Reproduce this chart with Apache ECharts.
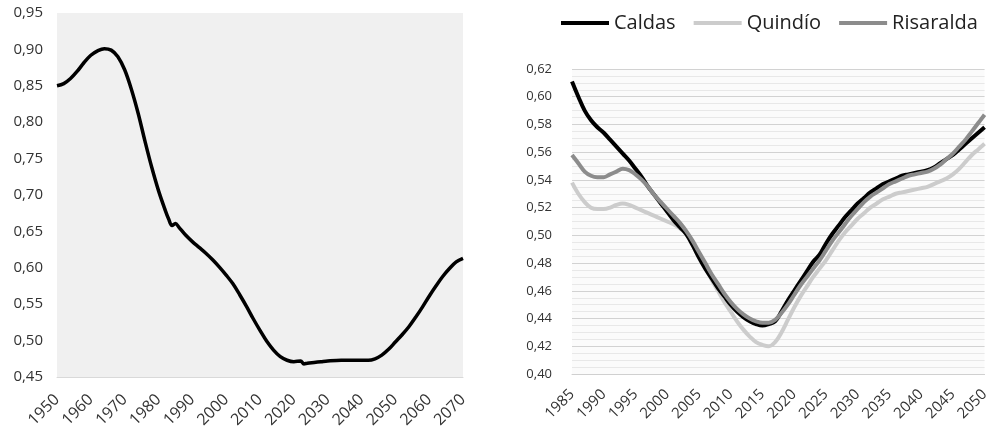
<!DOCTYPE html>
<html>
<head>
<meta charset="utf-8">
<script src="https://cdn.jsdelivr.net/npm/echarts@6/dist/echarts.min.js"></script>
<style>
  html, body { margin: 0; padding: 0; background: #ffffff; }
  #chart { width: 992px; height: 437px; }
</style>
</head>
<body>
<div id="chart"></div>
<script>
// Left panel: national ratio 1950-2070
const yearsNational = [1950, 1952, 1954, 1956, 1958, 1960, 1962, 1964, 1966, 1968, 1970, 1972, 1974, 1976, 1978, 1980, 1982, 1983, 1984, 1985, 1986, 1988, 1990, 1992, 1994, 1996, 1998, 2000, 2002, 2004, 2006, 2008, 2010, 2012, 2014, 2016, 2018, 2020, 2022, 2023, 2024, 2026, 2028, 2030, 2034, 2038, 2042, 2044, 2046, 2048, 2050, 2052, 2054, 2056, 2058, 2060, 2062, 2064, 2066, 2068, 2070];
const valuesNational = [0.850, 0.853, 0.860, 0.870, 0.882, 0.892, 0.898, 0.901, 0.899, 0.890, 0.872, 0.845, 0.812, 0.774, 0.738, 0.706, 0.679, 0.667, 0.658, 0.661, 0.656, 0.645, 0.636, 0.628, 0.620, 0.611, 0.601, 0.590, 0.578, 0.563, 0.547, 0.530, 0.514, 0.499, 0.487, 0.478, 0.473, 0.471, 0.472, 0.468, 0.469, 0.470, 0.471, 0.472, 0.473, 0.473, 0.473, 0.475, 0.480, 0.488, 0.498, 0.508, 0.519, 0.532, 0.546, 0.561, 0.575, 0.588, 0.599, 0.608, 0.613];

// Right panel: departments 1985-2050
const yearsDept = [];
for (let y = 1985; y <= 2050; y++) yearsDept.push(y);
const caldas = [0.611, 0.600, 0.590, 0.583, 0.578, 0.574, 0.569, 0.564, 0.559, 0.554, 0.548, 0.542, 0.535, 0.529, 0.523, 0.517, 0.511, 0.506, 0.501, 0.493, 0.484, 0.476, 0.469, 0.462, 0.456, 0.450, 0.445, 0.441, 0.438, 0.436, 0.435, 0.436, 0.438, 0.445, 0.453, 0.460, 0.467, 0.474, 0.481, 0.486, 0.494, 0.501, 0.507, 0.513, 0.518, 0.523, 0.527, 0.531, 0.534, 0.537, 0.539, 0.541, 0.543, 0.544, 0.545, 0.546, 0.547, 0.549, 0.552, 0.555, 0.558, 0.562, 0.566, 0.570, 0.574, 0.578];
const quindio = [0.538, 0.530, 0.524, 0.520, 0.519, 0.519, 0.520, 0.522, 0.523, 0.522, 0.520, 0.518, 0.516, 0.514, 0.512, 0.510, 0.508, 0.505, 0.501, 0.494, 0.486, 0.477, 0.468, 0.460, 0.452, 0.445, 0.438, 0.432, 0.427, 0.423, 0.421, 0.420, 0.423, 0.430, 0.439, 0.448, 0.456, 0.463, 0.470, 0.476, 0.482, 0.489, 0.496, 0.502, 0.507, 0.512, 0.516, 0.520, 0.523, 0.526, 0.528, 0.530, 0.531, 0.532, 0.533, 0.534, 0.535, 0.537, 0.539, 0.541, 0.544, 0.548, 0.553, 0.558, 0.562, 0.566];
const risaralda = [0.558, 0.552, 0.546, 0.543, 0.542, 0.542, 0.544, 0.546, 0.548, 0.547, 0.544, 0.540, 0.535, 0.529, 0.524, 0.519, 0.514, 0.509, 0.503, 0.496, 0.488, 0.480, 0.472, 0.465, 0.458, 0.452, 0.447, 0.443, 0.440, 0.438, 0.437, 0.437, 0.439, 0.444, 0.450, 0.457, 0.464, 0.470, 0.476, 0.482, 0.489, 0.496, 0.502, 0.508, 0.514, 0.519, 0.524, 0.528, 0.531, 0.534, 0.537, 0.539, 0.541, 0.543, 0.544, 0.545, 0.546, 0.548, 0.551, 0.555, 0.559, 0.564, 0.569, 0.575, 0.581, 0.587];

const seriesNames = ['Caldas', 'Quindío', 'Risaralda'];
const seriesColors = ['#000000', '#cccccc', '#8c8c8c'];

const pair = (xs, ys) => xs.map((x, i) => [x, ys[i]]);
const comma = (v) => v.toFixed(2).replace('.', ',');
const FONT = '"Open Sans", "Noto Sans", sans-serif';

const chart = echarts.init(document.getElementById('chart'), null, { renderer: 'canvas' });

chart.setOption({
  animation: false,
  backgroundColor: '#ffffff',
  textStyle: { fontFamily: FONT },
  legend: {
    data: seriesNames,
    left: 556,
    top: 8,
    icon: 'rect',
    itemWidth: 48,
    itemHeight: 4,
    itemGap: 18,
    textStyle: { fontSize: 20, color: '#222', fontFamily: FONT }
  },
  grid: [
    { left: 57, right: 529, top: 13, bottom: 60, show: true, backgroundColor: '#f0f0f0', borderWidth: 0 },
    { left: 572, right: 7, top: 69, bottom: 63, show: true, backgroundColor: '#fbfbfb', borderWidth: 0 }
  ],
  xAxis: [
    {
      gridIndex: 0, type: 'value', min: 1950, max: 2070, interval: 10,
      axisLine: { show: true, lineStyle: { color: '#d9d9d9', width: 1 } },
      axisTick: { show: false },
      splitLine: { show: false },
      axisLabel: { rotate: 45, fontSize: 16, color: '#333', margin: 20, fontFamily: FONT, formatter: (v) => String(v) }
    },
    {
      gridIndex: 1, type: 'value', min: 1985, max: 2050, interval: 5,
      axisLine: { show: true, lineStyle: { color: '#d0d0d0', width: 1 } },
      axisTick: { show: false },
      splitLine: { show: false },
      axisLabel: { rotate: 45, fontSize: 15, color: '#333', margin: 18, fontFamily: FONT, formatter: (v) => String(v) }
    }
  ],
  yAxis: [
    {
      gridIndex: 0, type: 'value', min: 0.45, max: 0.95, interval: 0.05,
      axisLine: { show: false }, axisTick: { show: false },
      splitLine: { show: false },
      axisLabel: { fontSize: 15, color: '#333', margin: 14, fontFamily: FONT, formatter: comma }
    },
    {
      gridIndex: 1, type: 'value', min: 0.40, max: 0.62, interval: 0.02,
      axisLine: { show: false }, axisTick: { show: false },
      splitLine: { show: true, lineStyle: { color: '#d2d2d2', width: 1 } },
      minorTick: { show: false, splitNumber: 4 },
      minorSplitLine: { show: true, lineStyle: { color: '#e8e8e8', width: 1 } },
      axisLabel: { fontSize: 13, color: '#333', margin: 20, fontFamily: FONT, formatter: comma }
    }
  ],
  series: [
    {
      name: 'Nacional', type: 'line', xAxisIndex: 0, yAxisIndex: 0,
      data: pair(yearsNational, valuesNational),
      smooth: 0.35, showSymbol: false,
      lineStyle: { color: '#000000', width: 3.5 }
    },
    {
      name: seriesNames[1], type: 'line', xAxisIndex: 1, yAxisIndex: 1,
      data: pair(yearsDept, quindio), smooth: 0.4, showSymbol: false,
      itemStyle: { color: seriesColors[1] },
      lineStyle: { color: seriesColors[1], width: 4 }, z: 2
    },
    {
      name: seriesNames[0], type: 'line', xAxisIndex: 1, yAxisIndex: 1,
      data: pair(yearsDept, caldas), smooth: 0.4, showSymbol: false,
      itemStyle: { color: seriesColors[0] },
      lineStyle: { color: seriesColors[0], width: 4 }, z: 3
    },
    {
      name: seriesNames[2], type: 'line', xAxisIndex: 1, yAxisIndex: 1,
      data: pair(yearsDept, risaralda), smooth: 0.4, showSymbol: false,
      itemStyle: { color: seriesColors[2] },
      lineStyle: { color: seriesColors[2], width: 4 }, z: 4
    }
  ]
});
</script>
</body>
</html>
